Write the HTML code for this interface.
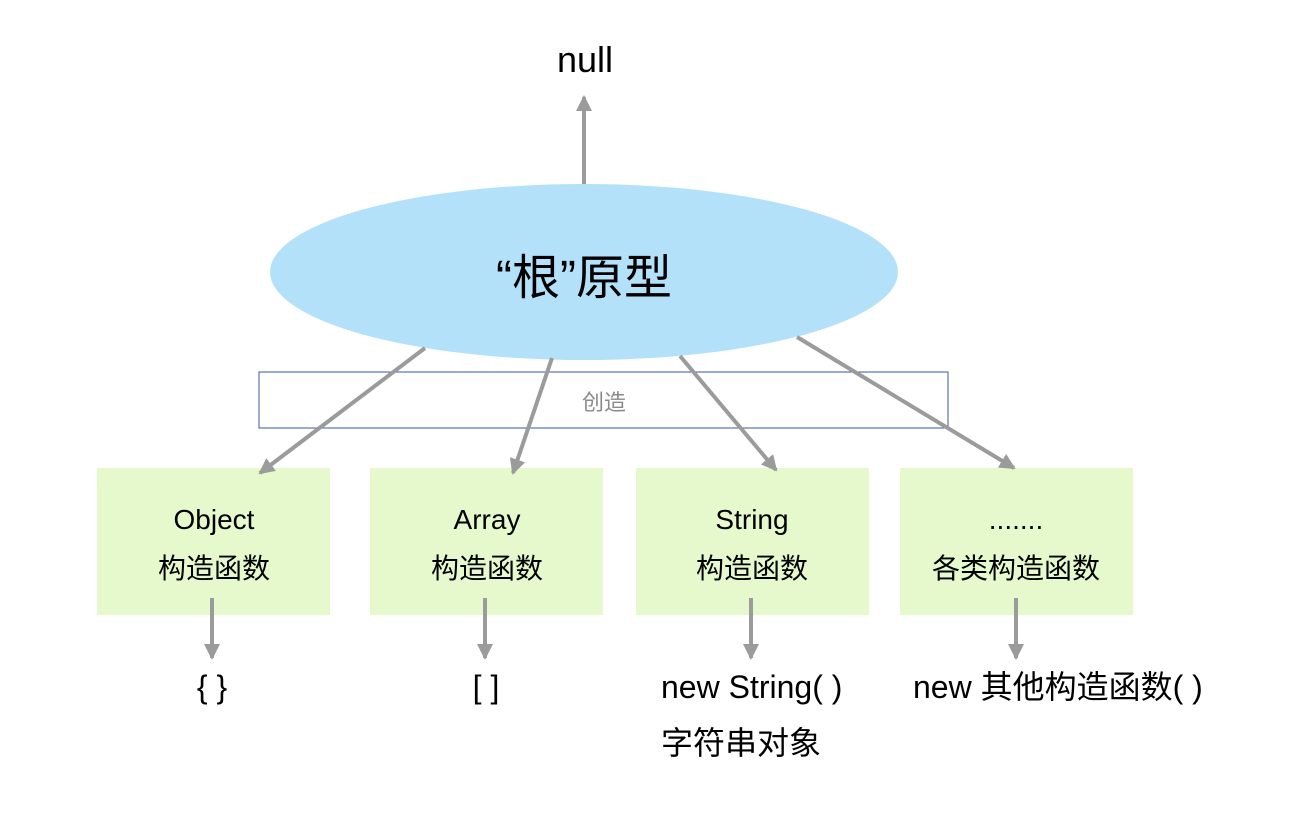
<!DOCTYPE html>
<html><head><meta charset="utf-8"><style>
body{margin:0;background:#fff;width:1292px;height:822px;overflow:hidden;font-family:"Liberation Sans","Noto Sans CJK SC",sans-serif}
</style></head><body>
<svg width="1292" height="822" xmlns="http://www.w3.org/2000/svg" style="font-family:'Liberation Sans','Noto Sans CJK SC',sans-serif">
<defs><marker id="a" markerWidth="10" markerHeight="10" refX="8" refY="5" orient="auto" markerUnits="userSpaceOnUse" viewBox="0 0 10 10"><path d="M0,0 L10,5 L0,10 z" fill="#9b9b9b"/></marker>
<marker id="b" markerWidth="16" markerHeight="16" refX="14" refY="8" orient="auto" markerUnits="userSpaceOnUse"><path d="M0,0 L16,8 L0,16 z" fill="#9b9b9b"/></marker></defs>
<rect x="97" y="468" width="233" height="147" fill="#e6f9cc"/>
<rect x="370" y="468" width="233" height="147" fill="#e6f9cc"/>
<rect x="636" y="468" width="233" height="147" fill="#e6f9cc"/>
<rect x="900" y="468" width="233" height="147" fill="#e6f9cc"/>
<ellipse cx="584" cy="272" rx="314" ry="88" fill="#b3e1fa"/>
<rect x="259" y="372" width="689" height="56" fill="none" stroke="#3a5aa0" stroke-width="1"/>
<text x="604" y="410" font-size="22" fill="#8a8a8a" text-anchor="middle">创造</text>
<g stroke="#9b9b9b" stroke-width="4" fill="none" marker-end="url(#b)">
<line x1="584" y1="184" x2="584" y2="97"/>
<line x1="425" y1="348" x2="260" y2="473"/>
<line x1="552" y1="358" x2="513" y2="473"/>
<line x1="680" y1="356" x2="776" y2="470"/>
<line x1="797" y1="337" x2="1014" y2="468"/>
<line x1="212" y1="598" x2="212" y2="658"/>
<line x1="485" y1="598" x2="485" y2="658"/>
<line x1="751" y1="598" x2="751" y2="658"/>
<line x1="1016" y1="598" x2="1016" y2="658"/>
</g>
<text x="585" y="72" font-size="36" text-anchor="middle" fill="#000">null</text>
<text x="584" y="294" font-size="48" text-anchor="middle" fill="#000">“根”原型</text>
<g font-size="28" text-anchor="middle" fill="#000">
<text x="214" y="529">Object</text><text x="214" y="578">构造函数</text>
<text x="487" y="529">Array</text><text x="487" y="578">构造函数</text>
<text x="752" y="529">String</text><text x="752" y="578">构造函数</text>
<text x="1016" y="529">.......</text><text x="1016" y="578">各类构造函数</text>
</g>
<g font-size="32" fill="#000">
<text x="212" y="698" text-anchor="middle">{ }</text>
<text x="486" y="698" text-anchor="middle">[ ]</text>
<text x="661" y="698">new String( )</text>
<text x="661" y="754">字符串对象</text>
<text x="913" y="698">new 其他构造函数( )</text>
</g>
</svg>
</body></html>
